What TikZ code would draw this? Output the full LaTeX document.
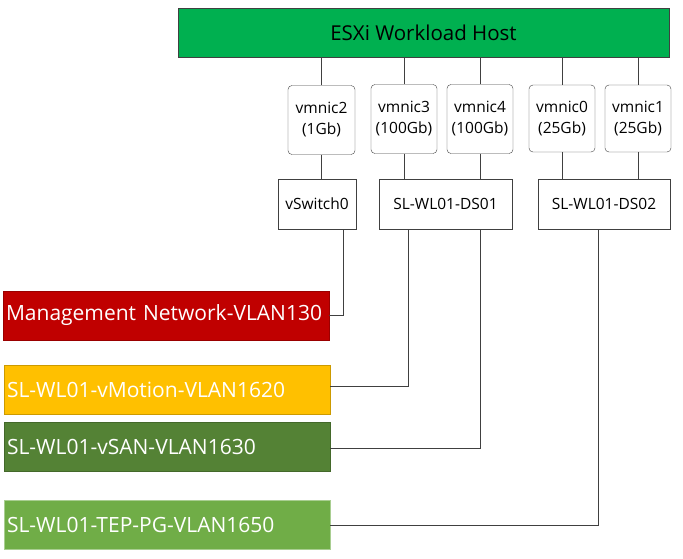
\documentclass[tikz,border=0pt]{standalone}
\usepackage{fontspec}
\setmainfont{Open Sans}
\usetikzlibrary{positioning}
\definecolor{hostgreen}{HTML}{00B050}
\definecolor{mgmtred}{HTML}{C00000}
\definecolor{vmoyellow}{HTML}{FFC000}
\definecolor{vsangreen}{HTML}{548235}
\definecolor{tepgreen}{HTML}{70AD47}
\tikzset{x=1pt, y=-1pt, line width=1.4pt,
  every node/.style={inner sep=0pt, align=center},
  nic/.style={draw=black!75, rounded corners=4pt, minimum width=66, minimum height=69, font=\fontsize{15.5}{21}\selectfont},
  vsw/.style={draw=black!75, minimum height=50, font=\fontsize{15.5}{19}\selectfont},
  pg/.style={draw=#1!80!black, fill=#1, text=white, minimum width=326, minimum height=49, text width=320, align=left, font=\fontsize{21}{25}\selectfont},
  wire/.style={draw=black!75}}
\begin{document}
\begin{tikzpicture}
	\useasboundingbox (0,0) rectangle (683,559);
	\node[draw=black!75, fill=hostgreen, minimum width=491, minimum height=49, font=\fontsize{20.5}{24}\selectfont] (Host) at (423.5,32.5) {ESXi Workload Host};
	% uplinks
	\node[nic, minimum width=67] (vmnic2) at (321.5,120) {vmnic2\\(1Gb)};
	\node[nic] (vmnic3) at (404,119) {vmnic3\\(100Gb)};
	\node[nic] (vmnic4) at (480,119) {vmnic4\\(100Gb)};
	\node[nic, minimum height=67] (vmnic0) at (562,118.5) {vmnic0\\(25Gb)};
	\node[nic, minimum height=67] (vmnic1) at (638,118.5) {vmnic1\\(25Gb)};
	% switches
	\node[vsw, minimum width=78] (vSwitch0) at (317,204) {vSwitch0};
	\node[vsw, minimum width=133] (DS01) at (445.5,204) {SL-WL01-DS01};
	\node[vsw, minimum width=132] (DS02) at (604,204) {SL-WL01-DS02};
	% port groups
	\node[pg=mgmtred] (Mgmt) at (166,315.5) {Management Network-VLAN130};
	\node[pg=vmoyellow] (vMotion) at (167,390) {SL-WL01-vMotion-VLAN1620};
	\node[pg=vsangreen] (vSAN) at (167,446.5) {SL-WL01-vSAN-VLAN1630};
	\node[pg=tepgreen, draw=tepgreen!60!white] (TEP) at (167,525) {SL-WL01-TEP-PG-VLAN1650};
	\foreach \n in {vmnic2, vmnic3, vmnic4, vmnic0, vmnic1}
		\draw[wire] (\n.north) -- (\n.north |- Host.south);
	\draw[wire] (vmnic2.south) -- (vmnic2.south |- vSwitch0.north);
	\draw[wire] (vmnic3.south) -- (vmnic3.south |- DS01.north);
	\draw[wire] (vmnic4.south) -- (vmnic4.south |- DS01.north);
	\draw[wire] (vmnic0.south) -- (vmnic0.south |- DS02.north);
	\draw[wire] (vmnic1.south) -- (vmnic1.south |- DS02.north);
	\draw[wire] ([xshift=26]vSwitch0.south) |- (Mgmt.east);
	\draw[wire] ([xshift=-37.5]DS01.south) |- ([yshift=4]vMotion.east);
	\draw[wire] ([xshift=34.5]DS01.south) |- ([yshift=-1.5]vSAN.east);
	\draw[wire] ([xshift=-6]DS02.south) |- (TEP.east);
\end{tikzpicture}
\end{document}
